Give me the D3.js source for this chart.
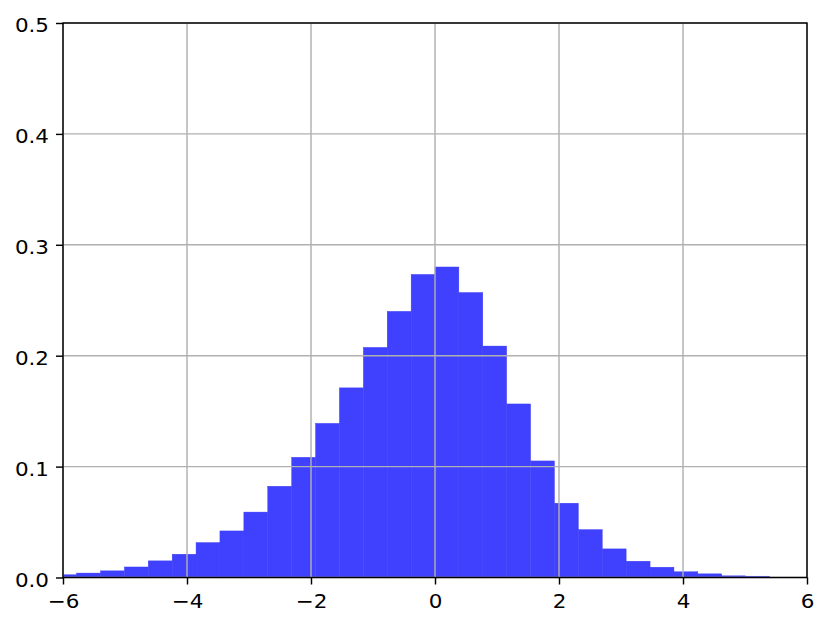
<!DOCTYPE html>
<html>
<head>
<meta charset="utf-8">
<script src="https://cdn.jsdelivr.net/npm/d3@7"></script>
<style>
  body { margin: 0; background: #fff; }
  text { font-family: "DejaVu Sans", sans-serif; }
</style>
</head>
<body>
<svg width="830" height="628"></svg>
<script>
// bin edges (left, right) and density heights
var binLeft = [-6.166, -5.781, -5.396, -5.010, -4.625, -4.239, -3.854, -3.469, -3.083, -2.698,
               -2.312, -1.927, -1.542, -1.156, -0.771, -0.385, 0.000, 0.385, 0.771, 1.156,
               1.542, 1.927, 2.312, 2.698, 3.083, 3.469, 3.854, 4.239, 4.625, 5.010];
var binRight = [-5.781, -5.396, -5.010, -4.625, -4.239, -3.854, -3.469, -3.083, -2.698, -2.312,
                -1.927, -1.542, -1.156, -0.771, -0.385, 0.000, 0.385, 0.771, 1.156, 1.542,
                1.927, 2.312, 2.698, 3.083, 3.469, 3.854, 4.239, 4.625, 5.010, 5.396];
var density = [0.0025, 0.004, 0.006, 0.0095, 0.015, 0.021, 0.0315, 0.042, 0.059, 0.0823,
               0.1084, 0.139, 0.171, 0.2075, 0.240, 0.2733, 0.280, 0.257, 0.2087, 0.1565,
               0.1051, 0.067, 0.0432, 0.0258, 0.0147, 0.0093, 0.0052, 0.0033, 0.0015, 0.0012];

var xTicks = [-6, -4, -2, 0, 2, 4, 6];
var yTicks = [0.0, 0.1, 0.2, 0.3, 0.4, 0.5];

var svg = d3.select("svg");
var pLeft = 63, pRight = 807, pTop = 23, pBottom = 577.5;
var stretch = 1.1; // tick labels in the picture are a bit wider than plain DejaVu

var x = d3.scaleLinear().domain([-6, 6]).range([pLeft, pRight]);
var y = d3.scaleLinear().domain([0, 0.5]).range([pBottom, pTop]);

svg.append("clipPath").attr("id", "clip")
    .append("rect")
    .attr("x", pLeft).attr("y", pTop)
    .attr("width", pRight - pLeft).attr("height", pBottom - pTop);

// bars
var bins = density.map(function (d, i) {
    return { x0: binLeft[i], x1: binRight[i], h: d };
});
svg.append("g")
    .attr("clip-path", "url(#clip)")
    .selectAll("rect")
    .data(bins)
    .enter().append("rect")
    .attr("x", d => x(d.x0))
    .attr("width", d => x(d.x1) - x(d.x0))
    .attr("y", d => y(d.h))
    .attr("height", d => y(0) - y(d.h))
    .attr("fill", "#4040ff")
    .attr("stroke", "#3d3df5")
    .attr("stroke-width", 0.4);

// grid on top of the bars
var grid = svg.append("g").attr("stroke", "#b0b0b0").attr("stroke-width", 1.44);
grid.selectAll("line.gx")
    .data(xTicks)
    .enter().append("line")
    .attr("x1", d => x(d)).attr("x2", d => x(d))
    .attr("y1", pTop).attr("y2", pBottom);
grid.selectAll("line.gy")
    .data(yTicks)
    .enter().append("line")
    .attr("x1", pLeft).attr("x2", pRight)
    .attr("y1", d => y(d)).attr("y2", d => y(d));

// axes
var xAxis = d3.axisBottom(x).tickValues(xTicks).tickSizeInner(7).tickSizeOuter(0).tickPadding(10)
    .tickFormat(d3.format("d"));
var yAxis = d3.axisLeft(y).tickValues(yTicks).tickSizeInner(7).tickSizeOuter(0).tickPadding(7)
    .tickFormat(d3.format(".1f"));

var gx = svg.append("g").attr("transform", "translate(0," + pBottom + ")").call(xAxis);
var gy = svg.append("g").attr("transform", "translate(" + pLeft + ",0)").call(yAxis);

[gx, gy].forEach(function (g) {
    g.select(".domain").remove();
    g.selectAll(".tick line").attr("stroke", "#000").attr("stroke-width", 1.44);
    g.selectAll(".tick text").attr("fill", "#000").style("font-size", "19.5px")
        .attr("transform", "scale(" + stretch + ",1)");
});
gy.selectAll(".tick text").attr("dy", "0.45em").attr("x", -14 / stretch);

// frame
svg.append("rect")
    .attr("x", pLeft).attr("y", pTop)
    .attr("width", pRight - pLeft).attr("height", pBottom - pTop)
    .attr("fill", "none")
    .attr("stroke", "#000")
    .attr("stroke-width", 1.44);
</script>
</body>
</html>
